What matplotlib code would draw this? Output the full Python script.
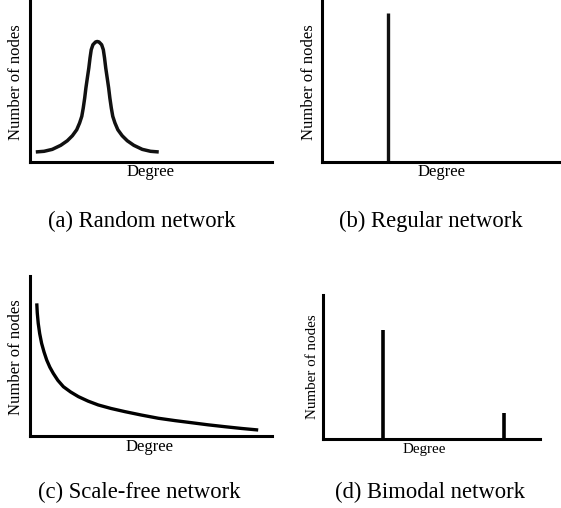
import matplotlib
matplotlib.use('Agg')
import matplotlib.pyplot as plt

# figure size in pixels
W, H = 561, 508
DPI = 100

# --- values (arbitrary units, 0..100 on both axes) ---
# (a) random network: bell shaped degree distribution
random_degree = [2.4, 5.8, 9.2, 12.7, 15.4, 17.5, 19.3, 20.5, 21.4, 22.0, 22.6, 23.1, 23.7,
                 24.3, 24.8, 25.3, 26.0, 27.1, 27.8, 28.5, 29.6, 30.3, 30.8, 31.3, 31.9,
                 32.5, 33.0, 33.6, 34.2, 35.1, 36.3, 38.1, 40.2, 42.9, 46.4, 49.8, 53.2]
random_nodes = [6.2, 6.6, 7.8, 10.3, 13.1, 16.2, 19.9, 24.1, 28.2, 33.3, 39.5, 45.7, 51.9,
                58.0, 64.2, 69.3, 72.4, 74.1, 74.4, 74.1, 72.4, 69.3, 64.2, 58.0, 51.9,
                45.7, 39.5, 33.3, 28.2, 24.1, 19.9, 16.2, 13.1, 10.3, 7.8, 6.6, 6.2]
# (b) regular network: single spike
regular_degree = [27.6]
regular_nodes = [92.0]
# (c) scale-free network: power-law like decay
scalefree_degree = [2.8, 3.0, 3.4, 4.0, 4.8, 5.8, 6.9, 8.2, 9.6, 11.5, 13.8, 16.8, 20.0,
                    24.0, 28.2, 33.5, 39.3, 46.0, 53.0, 60.0, 66.8, 73.5, 80.6, 87.5, 94.3]
scalefree_nodes = [82.9, 77.0, 70.4, 64.0, 57.9, 52.5, 47.5, 43.0, 39.2, 34.8, 30.8, 27.5, 24.6,
                   21.8, 19.4, 17.2, 15.2, 13.1, 11.1, 9.6, 8.3, 7.0, 5.8, 4.7, 3.75]
# (d) bimodal network: two spikes
bimodal_degree = [27.6, 83.4]
bimodal_nodes = [75.7, 18.1]

captions = ['(a) Random network', '(b) Regular network',
            '(c) Scale-free network', '(d) Bimodal network']

plt.rcParams['font.family'] = ['Liberation Serif', 'DejaVu Serif']

fig = plt.figure(figsize=(W / DPI, H / DPI), dpi=DPI)


def box(left, top, right, bottom):
    # pixel edges -> figure fraction rect
    return [left / W, 1 - bottom / H, (right - left) / W, (bottom - top) / H]


def px_text(x, y, s, **kw):
    return fig.text(x / W, 1 - y / H, s, **kw)


def make_axes(rect):
    ax = fig.add_axes(rect)
    ax.set_xlim(0, 100)
    ax.set_ylim(0, 100)
    ax.set_xticks([])
    ax.set_yticks([])
    ax.patch.set_alpha(0)
    for s in ('top', 'right'):
        ax.spines[s].set_visible(False)
    for s in ('left', 'bottom'):
        ax.spines[s].set_linewidth(2.2)
        ax.spines[s].set_capstyle('projecting')
    return ax


ax_a = make_axes(box(30, 0, 272, 162))
ax_b = make_axes(box(322, 0, 561, 162))
ax_c = make_axes(box(30, 276, 272, 436))
ax_d = make_axes(box(323, 295, 540, 439))

ax_a.plot(random_degree, random_nodes, color='#111111', lw=2.5,
          solid_joinstyle='round', solid_capstyle='butt', clip_on=False)
ax_b.vlines(regular_degree, 0, regular_nodes, color='#111111', lw=2.4)
ax_c.plot(scalefree_degree, scalefree_nodes, color='black', lw=2.4,
          solid_joinstyle='round', solid_capstyle='butt', clip_on=False)
ax_d.vlines(bimodal_degree, 0, bimodal_nodes, color='black', lw=2.6)

# axis labels
lab = 12
px_text(151, 176, 'Degree', fontsize=lab, ha='center', va='baseline')
px_text(16, 82, 'Number of nodes', fontsize=lab, rotation=90, ha='center', va='center')
px_text(442, 176, 'Degree', fontsize=lab, ha='center', va='baseline')
px_text(309, 82, 'Number of nodes', fontsize=lab, rotation=90, ha='center', va='center')
px_text(150, 451, 'Degree', fontsize=lab, ha='center', va='baseline')
px_text(16, 357, 'Number of nodes', fontsize=lab, rotation=90, ha='center', va='center')
px_text(424, 453, 'Degree', fontsize=10.8, ha='center', va='baseline')
px_text(312, 367, 'Number of nodes', fontsize=10.8, rotation=90, ha='center', va='center')

# sub-figure captions
cap = 16.3
px_text(142, 227, captions[0], fontsize=cap, ha='center', va='baseline')
px_text(431, 227, captions[1], fontsize=cap, ha='center', va='baseline')
px_text(139, 498, captions[2], fontsize=cap, ha='center', va='baseline')
px_text(430, 498, captions[3], fontsize=cap, ha='center', va='baseline')

fig.savefig('out.png', dpi=DPI)
